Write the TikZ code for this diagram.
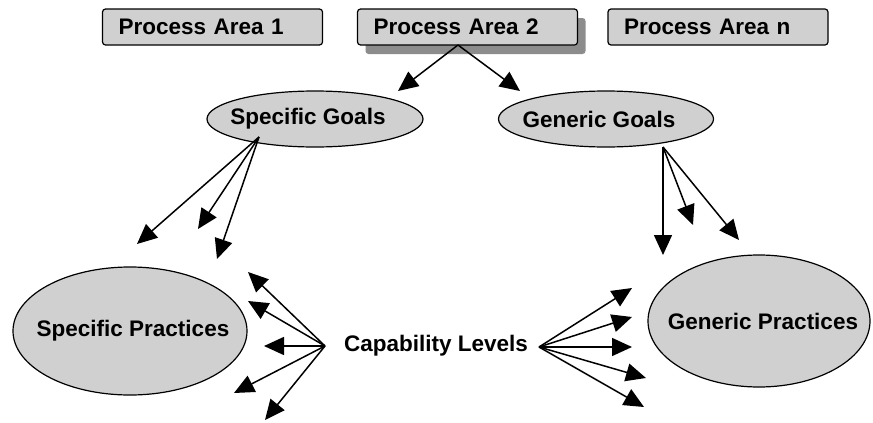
\documentclass[tikz,border=0pt]{standalone}
\usepackage{fontspec}
\setmainfont{Liberation Sans}
\usetikzlibrary{shapes.geometric,arrows.meta,shadows}
\definecolor{fillgray}{RGB}{208,208,208}
\definecolor{shadowgray}{RGB}{140,140,140}
\begin{document}
\begin{tikzpicture}[x=1pt,y=-1pt,
  font=\fontsize{22.5}{26}\selectfont\bfseries,
  pabox/.style={draw, line width=1.2pt, fill=fillgray, rounded corners=3pt,
    minimum height=36pt, inner xsep=16pt, text width=188pt, align=left},
  oval/.style={ellipse, draw, line width=1.2pt, fill=fillgray, inner sep=0pt},
  arr/.style={line width=1.5pt, -{Triangle[length=20pt,width=18pt]}}]
\useasboundingbox (0,0) rectangle (873,423);
\node[pabox] (pa1) at (212.5,27) {Process Area 1};
\node[pabox, drop shadow={shadow xshift=8pt, shadow yshift=-9pt, fill=shadowgray, opacity=1}] (pa2) at (467.5,27) {Process Area 2};
\node[pabox] (pan) at (718,27) {Process Area n};
\node[oval, minimum width=216pt, minimum height=56pt] (sg) at (315,119) {\makebox[0pt]{\kern-14pt Specific Goals}};
\node[oval, minimum width=215pt, minimum height=56pt] (gg) at (606,119) {\makebox[0pt]{\kern-14pt Generic Goals}};
\node[oval, minimum width=234pt, minimum height=128pt] (sp) at (130,331) {\makebox[0pt]{\kern6pt Specific Practices}};
\node[oval, minimum width=222pt, minimum height=132pt] (gp) at (759,321) {\makebox[0pt]{\kern8pt Generic Practices}};
\node (cap) at (436,346) {Capability Levels};
% sources
\coordinate (pa2s) at (458,45);
\coordinate (sgs) at (259,137);
\coordinate (ggs) at (663,147);
\coordinate (capl) at (325,346);
\coordinate (capr) at (539,347);
% tips
\coordinate (t1) at (398,91);
\coordinate (t2) at (520,91);
\coordinate (s1) at (137,244);
\coordinate (s2) at (198,229);
\coordinate (s3) at (217,259);
\coordinate (g1) at (663,255);
\coordinate (g2) at (693,225);
\coordinate (g3) at (739,240);
\coordinate (l1) at (248,272);
\coordinate (l2) at (248,301);
\coordinate (l3) at (264,346);
\coordinate (l4) at (234,393);
\coordinate (l5) at (265,420);
\coordinate (r1) at (632,288);
\coordinate (r2) at (632,317);
\coordinate (r3) at (632,347);
\coordinate (r4) at (646,378);
\coordinate (r5) at (644,407);
\foreach \t in {t1,t2} \draw[arr] (pa2s) -- (\t);
\foreach \t in {s1,s2,s3} \draw[arr] (sgs) -- (\t);
\foreach \t in {g1,g2,g3} \draw[arr] (ggs) -- (\t);
\foreach \t in {l1,l2,l3,l4,l5} \draw[arr] (capl) -- (\t);
\foreach \t in {r1,r2,r3,r4,r5} \draw[arr] (capr) -- (\t);
\end{tikzpicture}
\end{document}
